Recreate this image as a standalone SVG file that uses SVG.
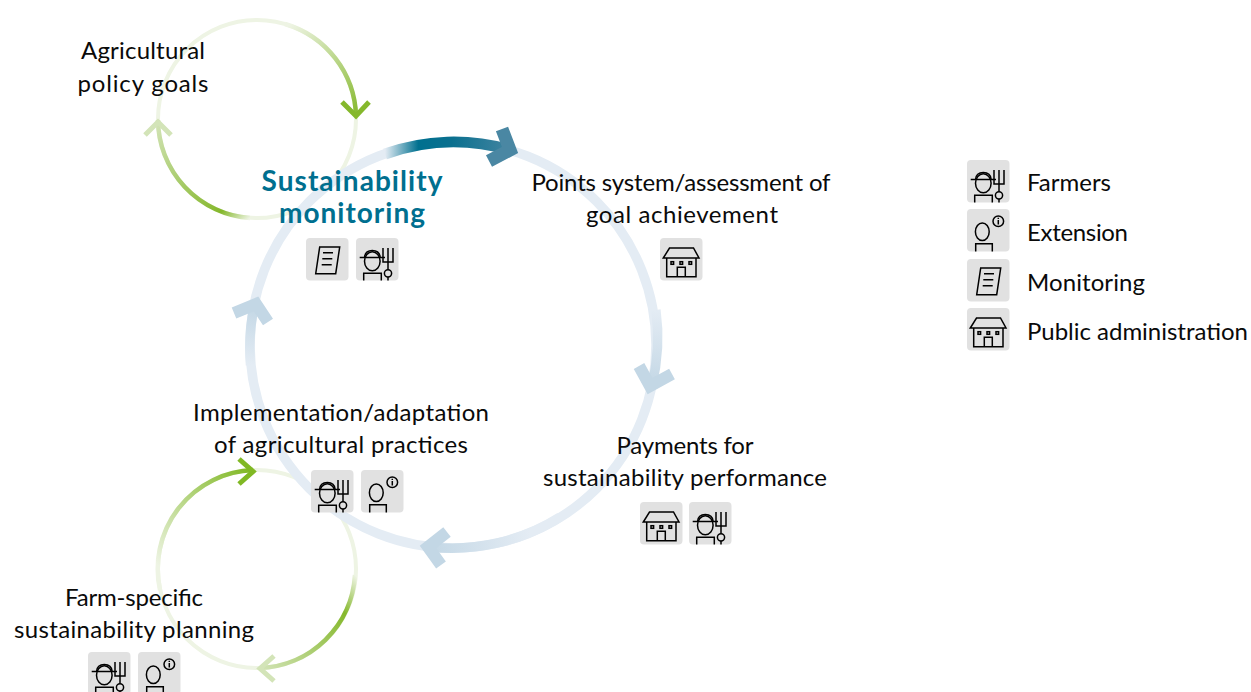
<svg xmlns="http://www.w3.org/2000/svg" width="1251" height="692" viewBox="0 0 1251 692">
<style>
text{font-family:"Lato","Noto Sans",sans-serif;font-size:24px;fill:#0a0a0a;text-anchor:middle;font-weight:400}
.l{text-anchor:start}
.h{font-weight:700;font-size:28px;fill:#006f8f}
.box{fill:#e1e1e1}
.ic{fill:none;stroke:#000;stroke-width:1.5}
.chev{fill:none;stroke-linejoin:miter;stroke-linecap:butt}
</style>
<defs>
<linearGradient id="g1" gradientUnits="userSpaceOnUse" x1="385" y1="150" x2="518" y2="152"><stop offset="0" stop-color="#e4ecf4"/><stop offset=".25" stop-color="#00708f"/><stop offset=".5" stop-color="#0a708f"/><stop offset="1" stop-color="#4a87a3"/></linearGradient>
<linearGradient id="g2" gradientUnits="userSpaceOnUse" x1="656" y1="310" x2="651" y2="386"><stop offset="0" stop-color="#e4ecf4"/><stop offset="1" stop-color="#c3d7e5"/></linearGradient>
<linearGradient id="g3" gradientUnits="userSpaceOnUse" x1="530" y1="535" x2="428" y2="547"><stop offset="0" stop-color="#e4ecf4"/><stop offset="1" stop-color="#c3d7e5"/></linearGradient>
<linearGradient id="g4" gradientUnits="userSpaceOnUse" x1="250" y1="365" x2="254" y2="306"><stop offset="0" stop-color="#e4ecf4"/><stop offset="1" stop-color="#c3d7e5"/></linearGradient>
<linearGradient id="s1" gradientUnits="userSpaceOnUse" x1="285" y1="28" x2="356" y2="118"><stop offset="0" stop-color="#eef4e4"/><stop offset="1" stop-color="#85b82c"/></linearGradient>
<linearGradient id="s2" gradientUnits="userSpaceOnUse" x1="250" y1="218" x2="157" y2="120"><stop offset="0" stop-color="#eef4e4"/><stop offset=".18" stop-color="#85b82c"/><stop offset="1" stop-color="#d3e4b8"/></linearGradient>
<linearGradient id="s3" gradientUnits="userSpaceOnUse" x1="163" y1="570" x2="255" y2="472"><stop offset="0" stop-color="#eef4e4"/><stop offset="1" stop-color="#80b824"/></linearGradient>
<linearGradient id="s4" gradientUnits="userSpaceOnUse" x1="355" y1="575" x2="258" y2="668"><stop offset="0" stop-color="#eef4e4"/><stop offset=".25" stop-color="#85b82c"/><stop offset="1" stop-color="#d3e4b8"/></linearGradient>
<g id="farmer"><rect class="box" width="42.500" height="42.500" rx="4"/><g class="ic"><path d="M3.700 19.500H29M8.500 19.500C9 14 12.500 12.500 16.300 12.500S23.700 14 24.200 19.500"/><ellipse cx="16.300" cy="23.200" rx="7.800" ry="9.500"/><path d="M7.700 42.500V35.300H25.300V42.500M27 10V24H37V10M32 10V31.500M32 39V42.500"/><circle cx="32" cy="35.300" r="3.600"/></g></g>
<g id="ext"><rect class="box" width="42.500" height="42.500" rx="4"/><g class="ic"><ellipse cx="15.300" cy="22.700" rx="6.900" ry="8.800"/><path d="M8.700 42.500V34.700H25.300V42.500"/><circle cx="31.300" cy="12.300" r="5.300"/><path d="M31.300 11V15.500M31.300 8.800V10"/></g></g>
<g id="mon"><rect class="box" width="42.500" height="42.500" rx="4"/><g class="ic"><path d="M13.700 9H33.700L29.700 35.700H9.700Z"/><path d="M17 14.700H27M16.300 20.700H26.300M15.700 26.700H25.700"/></g></g>
<g id="bld"><rect class="box" width="42.500" height="42.500" rx="4"/><g class="ic"><path d="M3.300 20L9.500 10H33.500L39 20Z"/><path d="M6.700 20V38.700H36V20M17.300 38.700V29.300H25.300V38.700"/><rect x="11" y="23.700" width="2.600" height="2.600"/><rect x="20" y="23.700" width="2.600" height="2.600"/><rect x="29" y="23.700" width="2.600" height="2.600"/></g></g>
</defs>
<g id="connectors" fill="none">
<circle cx="257" cy="119" r="99" stroke="#eef4e4" stroke-width="4"/>
<path d="M285 24A99 99 0 0 1 356 116" stroke="url(#s1)" stroke-width="4.500"/>
<path class="chev" d="M342 102L356 116L369 102" stroke="#85b82c" stroke-width="5"/>
<path d="M250 218A99 99 0 0 1 158 120" stroke="url(#s2)" stroke-width="4.500"/>
<path class="chev" d="M145 135L158 122L171 135" stroke="#d3e4b8" stroke-width="5"/>
<circle cx="257" cy="569" r="99" stroke="#eef4e4" stroke-width="4"/>
<path d="M160 590A99 99 0 0 1 253 470" stroke="url(#s3)" stroke-width="4.500"/>
<path class="chev" d="M239 459L253 471.500L239 484" stroke="#80b824" stroke-width="5"/>
<path d="M355 575A99 99 0 0 1 260 668" stroke="url(#s4)" stroke-width="4.500"/>
<path class="chev" d="M274 656L260 668.500L274 681" stroke="#d3e4b8" stroke-width="5"/>
<circle cx="453" cy="345" r="203" stroke="#e4ecf4" stroke-width="9.500"/>
<path d="M385 154A203 203 0 0 1 510 150" stroke="url(#g1)" stroke-width="11"/>
<path class="chev" d="M502 129L510 150L489 161" stroke="#4a87a3" stroke-width="13"/>
<path d="M655.900 310A203 203 0 0 1 651.800 386" stroke="url(#g2)" stroke-width="9.500"/>
<path class="chev" d="M639 366L650 386L672 374" stroke="#c3d7e5" stroke-width="12"/>
<path d="M560 517A203 203 0 0 1 430 547" stroke="url(#g3)" stroke-width="9.500"/>
<path class="chev" d="M447 532L428 547L441 565" stroke="#c3d7e5" stroke-width="12"/>
<path d="M250.500 365A203 203 0 0 1 254.200 306" stroke="url(#g4)" stroke-width="9.500"/>
<path class="chev" d="M234 313L256 304L268 322" stroke="#c3d7e5" stroke-width="12"/>
</g>
<g id="node-goals"><text x="143" y="59" textLength="124">Agricultural</text><text x="143" y="92" textLength="131">policy goals</text></g>
<g id="node-monitoring"><text class="h" x="352" y="191" textLength="181">Sustainability</text><text class="h" x="352" y="223" textLength="146">monitoring</text><use href="#mon" x="306" y="238"/><use href="#farmer" x="356" y="238"/></g>
<g id="node-points"><text x="681" y="191" textLength="299">Points system/assessment of</text><text x="682" y="223" textLength="192">goal achievement</text><use href="#bld" x="660" y="238"/></g>
<g id="node-payments"><text x="685" y="454" textLength="137">Payments for</text><text x="685" y="486" textLength="284">sustainability performance</text><use href="#bld" x="640" y="502"/><use href="#farmer" x="689" y="502"/></g>
<g id="node-implementation"><text x="341" y="421" textLength="296">Implementation/adaptation</text><text x="341" y="453" textLength="254">of agricultural practices</text><use href="#farmer" x="311" y="470"/><use href="#ext" x="361" y="470"/></g>
<g id="node-planning"><text x="134" y="606" textLength="138">Farm-specific</text><text x="134" y="638" textLength="240">sustainability planning</text><use href="#farmer" x="88" y="652"/><use href="#ext" x="138" y="652"/></g>
<g id="legend-farmers"><use href="#farmer" x="967" y="160"/><text class="l" x="1027" y="191" textLength="84">Farmers</text></g>
<g id="legend-extension"><use href="#ext" x="967" y="209"/><text class="l" x="1027" y="241" textLength="101">Extension</text></g>
<g id="legend-monitoring"><use href="#mon" x="967" y="259"/><text class="l" x="1027" y="291" textLength="118">Monitoring</text></g>
<g id="legend-public"><use href="#bld" x="967" y="308"/><text class="l" x="1027" y="340" textLength="221">Public administration</text></g>
</svg>
